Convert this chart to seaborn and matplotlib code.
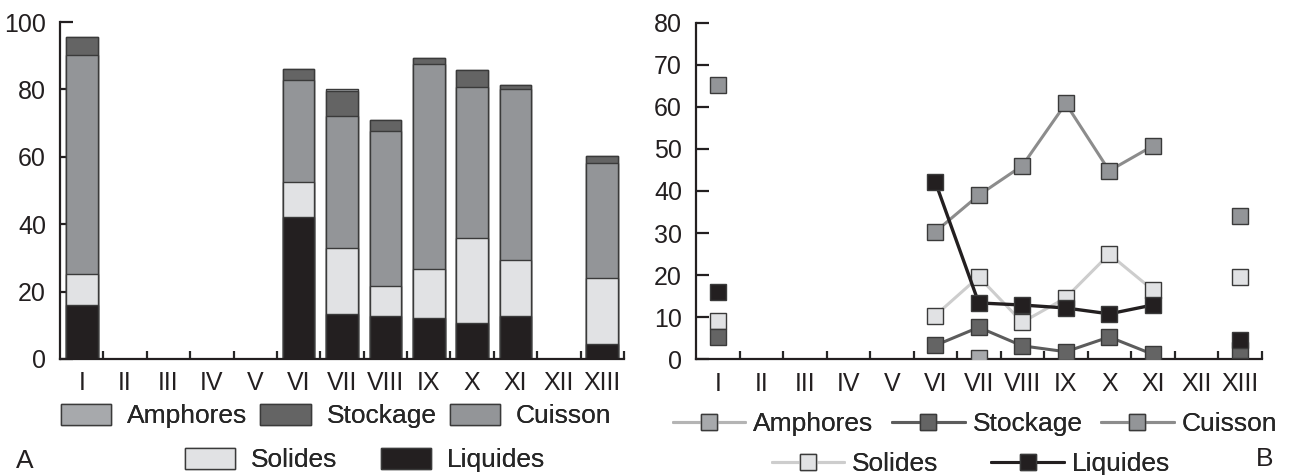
"""Stacked bars (A) and line profiles (B) by period."""
import matplotlib
matplotlib.use("Agg")
import matplotlib.pyplot as plt
import numpy as np
import pandas as pd
import seaborn as sns
from matplotlib.lines import Line2D
from matplotlib.patches import Patch

periods = ["I", "II", "III", "IV", "V", "VI", "VII", "VIII", "IX", "X", "XI", "XII", "XIII"]
nan = np.nan
liquides = [16.1, nan, nan, nan, nan, 42.2, 13.4, 12.9, 12.2, 10.8, 12.9, nan, 4.5]
solides = [9.0, nan, nan, nan, nan, 10.4, 19.6, 8.8, 14.6, 25.0, 16.5, nan, 19.5]
cuisson = [65.2, nan, nan, nan, nan, 30.3, 39.0, 46.0, 60.8, 44.8, 50.7, nan, 34.1]
stockage = [5.3, nan, nan, nan, nan, 3.3, 7.6, 3.2, 1.8, 5.3, 1.2, nan, 2.2]
amphores = [nan, nan, nan, nan, nan, nan, 0.4, nan, nan, nan, nan, nan, nan]

series = ["Amphores", "Stockage", "Cuisson", "Solides", "Liquides"]
fill = {"Amphores": "#a7a9ac", "Stockage": "#646464", "Cuisson": "#939598",
        "Solides": "#e1e2e4", "Liquides": "#231f20"}
line_col = {"Amphores": "#b4b4b4", "Stockage": "#5c5c5c", "Cuisson": "#8c8c8c",
            "Solides": "#cdcdcd", "Liquides": "#231f20"}
edge = "#3a3a3a"

df = pd.DataFrame({"period": periods, "Liquides": liquides, "Solides": solides,
                   "Cuisson": cuisson, "Stockage": stockage, "Amphores": amphores})

sns.set_style("ticks")
plt.rcParams["font.family"] = ["Liberation Sans", "DejaVu Sans"]
plt.rcParams["axes.linewidth"] = 1.6

fig = plt.figure(figsize=(12.89, 4.75), dpi=100)
axA = fig.add_axes([60 / 1289, 1 - 359 / 475, 564 / 1289, 337 / 475])
axB = fig.add_axes([696 / 1289, 1 - 359.3 / 475, 565.5 / 1289, 336.6 / 475])

# --- A: stacked bars drawn as cumulative totals, tallest first
stack = ["Liquides", "Solides", "Cuisson", "Stockage", "Amphores"]
vals = df[stack].fillna(0)
empty = df[stack].isna().all(axis=1)
cum = vals.cumsum(axis=1)
for name in reversed(stack):
    h = cum[name].where(~empty)
    sns.barplot(x=df["period"], y=h, order=periods, color=fill[name], saturation=1,
                width=0.73, edgecolor=edge, linewidth=1.0, ax=axA)
axA.set_ylim(0, 100)
axA.set_yticks([0, 20, 40, 60, 80, 100])

# --- B: lines broken at missing periods
xs = np.arange(len(periods))
for name in ["Amphores", "Solides", "Stockage", "Cuisson", "Liquides"]:
    y = df[name].to_numpy()
    ok = ~np.isnan(y)
    run_id = np.cumsum(np.r_[True, ok[1:] != ok[:-1]])
    for r in np.unique(run_id[ok]):
        m = ok & (run_id == r)
        lw = 2.4 if name == "Liquides" else 2.2
        sns.lineplot(x=xs[m], y=y[m], color=line_col[name], lw=lw, marker="s",
                     markersize=11.5, markerfacecolor=fill[name],
                     markeredgecolor=edge, markeredgewidth=1.0, ax=axB, zorder=3)
axB.set_ylim(0, 80)
axB.set_yticks(range(0, 81, 10))

for ax in (axA, axB):
    sns.despine(ax=ax)
    ax.set_xlim(-0.5, 12.5)
    ax.set_xticks(xs)
    ax.set_xticklabels(periods)
    ax.set_xticks(np.arange(0.5, 13, 1), minor=True)
    ax.tick_params(axis="x", which="major", length=0, pad=9, labelsize=18)
    ax.tick_params(axis="x", which="minor", direction="in", length=6, width=1.6)
    ax.tick_params(axis="y", direction="in", length=9, width=1.6, pad=10, labelsize=18)
    ax.set_xlabel("")
    ax.set_ylabel("")
    ax.spines["left"].set_color("#231f20")
    ax.spines["bottom"].set_color("#231f20")
    ax.tick_params(colors="#231f20")

# --- legends
def place(handles, labels, cx, cy, **kw):
    leg = fig.legend(handles, labels, loc="center", ncol=len(handles),
                     bbox_to_anchor=(cx / 1289, 1 - cy / 475), frameon=False,
                     fontsize=19, borderpad=0, borderaxespad=0, **kw)
    fig.add_artist(leg)

def patch(n):
    return Patch(facecolor=fill[n], edgecolor=edge, linewidth=1.0)

place([patch(n) for n in series[:3]], series[:3], 336, 416,
      handlelength=1.9, handleheight=0.85, handletextpad=0.6, columnspacing=0.5)
place([patch(n) for n in series[3:]], series[3:], 365, 460,
      handlelength=1.9, handleheight=0.85, handletextpad=0.6, columnspacing=1.65)

def mk(n):
    return Line2D([], [], color=line_col[n], lw=2.2, marker="s", markersize=11.5,
                  markerfacecolor=fill[n], markeredgecolor=edge, markeredgewidth=1.0)

place([mk(n) for n in series[:3]], series[:3], 975, 424,
      handlelength=2.75, handletextpad=0.3, columnspacing=0.7)
place([mk(n) for n in series[3:]], series[3:], 971, 464,
      handlelength=2.75, handletextpad=0.3, columnspacing=2.0)

fig.text(16 / 1289, 1 - 461 / 475, "A", fontsize=19, va="center", ha="left", color="#231f20")
fig.text(1273 / 1289, 1 - 459 / 475, "B", fontsize=19, va="center", ha="right", color="#231f20")

fig.savefig("out.png", dpi=100)
